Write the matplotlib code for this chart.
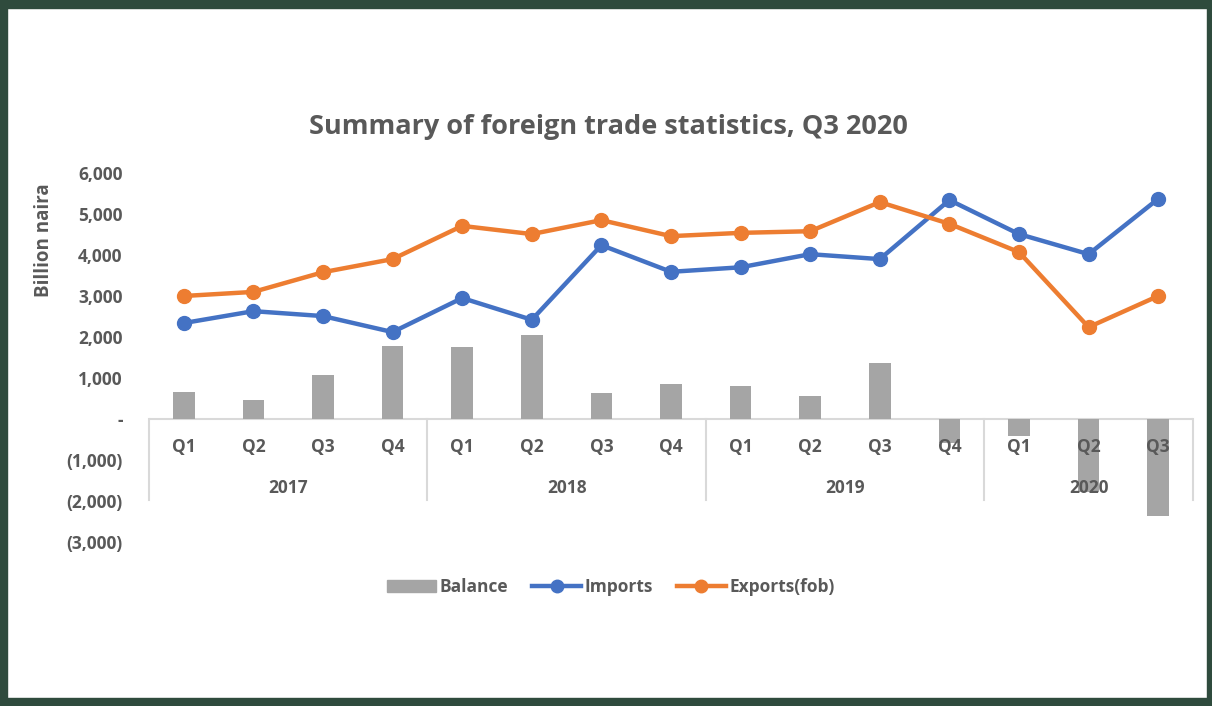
import numpy as np
import matplotlib
matplotlib.use("Agg")
import matplotlib.pyplot as plt
from matplotlib.patches import Rectangle
from matplotlib.lines import Line2D
from matplotlib.ticker import FuncFormatter

# data (billion naira)
years = ["2017", "2018", "2019", "2020"]
quarters = ["Q1", "Q2", "Q3", "Q4",
            "Q1", "Q2", "Q3", "Q4",
            "Q1", "Q2", "Q3", "Q4",
            "Q1", "Q2", "Q3"]
quarters_per_year = [4, 4, 4, 3]

imports = [2340, 2630, 2510, 2120, 2950, 2420, 4240, 3590,
           3700, 4020, 3900, 5340, 4510, 4020, 5370]
exports = [3000, 3100, 3580, 3900, 4710, 4510, 4850, 4460,
           4540, 4580, 5290, 4760, 4070, 2240, 3000]
balance = [660, 460, 1070, 1780, 1750, 2060, 630, 850,
           810, 570, 1370, -580, -420, -1780, -2370]

TEXT = "#595959"
GRID = "#d9d9d9"
BLUE = "#4472c4"
ORANGE = "#ed7d31"
GREY = "#a5a5a5"
FRAME = "#2f4b3d"
FS = 12.5

plt.rcParams["font.family"] = ["Open Sans", "DejaVu Sans"]

fig = plt.figure(figsize=(12.12, 7.06), dpi=100)
W, H = 1212, 706
ax = fig.add_axes([149 / W, 1 - 542 / H, (1193 - 149) / W, (542 - 173) / H])

x = np.arange(len(quarters))
ax.bar(x, balance, width=0.31, color=GREY, zorder=2, label="Balance")
ax.plot(x, imports, color=BLUE, lw=3.2, marker="o", ms=10, zorder=3,
        solid_capstyle="round", label="Imports")
ax.plot(x, exports, color=ORANGE, lw=3.2, marker="o", ms=10, zorder=3,
        solid_capstyle="round", label="Exports(fob)")

ax.set_xlim(-0.5, len(quarters) - 0.5)
ax.set_ylim(-3000, 6000)
ax.set_yticks(np.arange(-3000, 6001, 1000))


def fmt(v, pos):
    if v == 0:
        return "-"
    if v < 0:
        return "({:,.0f})".format(-v)
    return "{:,.0f}".format(v)


ax.yaxis.set_major_formatter(FuncFormatter(fmt))
ax.tick_params(axis="y", length=0, pad=19, labelsize=FS, labelcolor=TEXT)
for lab in ax.get_yticklabels():
    lab.set_fontweight("bold")
ax.set_xticks([])
for s in ax.spines.values():
    s.set_visible(False)

# category axis along zero
ax.axhline(0, color=GRID, lw=1.5, zorder=1)
depth = -1975
edges = np.concatenate([[0], np.cumsum(quarters_per_year)]) - 0.5
for e in edges:
    ax.plot([e, e], [0, depth], color=GRID, lw=1.5, zorder=1, clip_on=False)

for i, q in enumerate(quarters):
    ax.annotate(q, xy=(i, 0), xytext=(0, -28), textcoords="offset pixels",
                ha="center", va="center", fontsize=FS, fontweight="bold",
                color=TEXT, zorder=4)
for k, yr in enumerate(years):
    mid = (edges[k] + edges[k + 1]) / 2
    ax.annotate(yr, xy=(mid, 0), xytext=(0, -69), textcoords="offset pixels",
                ha="center", va="center", fontsize=FS, fontweight="bold",
                color=TEXT, zorder=4)

fig.text(44 / W, 1 - 240 / H, "Billion naira", rotation=90, ha="center",
         va="center", fontsize=13.5, fontweight="bold", color=TEXT)
fig.text(608 / W, 1 - 127 / H, "Summary of foreign trade statistics, Q3 2020",
         ha="center", va="center", fontsize=19.5, fontweight="bold",
         color=TEXT)

handles = [Rectangle((0, 0), 1, 1, color=GREY),
           Line2D([], [], color=BLUE, lw=3.2, marker="o", ms=9),
           Line2D([], [], color=ORANGE, lw=3.2, marker="o", ms=9)]
leg = fig.legend(handles, ["Balance", "Imports", "Exports(fob)"], ncol=3,
                 loc="center", bbox_to_anchor=(611 / W, 1 - 587 / H),
                 frameon=False, handlelength=2.8, handletextpad=0.2,
                 columnspacing=1.4,
                 prop={"size": FS, "weight": "bold"})
for t in leg.get_texts():
    t.set_color(TEXT)

# dark green frame around the picture
for r in [(0, 0, W, 8), (0, 0, 7, H), (W - 5, 0, 5, H), (0, H - 8, W, 8)]:
    fig.patches.append(Rectangle((r[0] / W, 1 - (r[1] + r[3]) / H),
                                 r[2] / W, r[3] / H, transform=fig.transFigure,
                                 color=FRAME, zorder=10))

fig.savefig("out.png", dpi=100)
